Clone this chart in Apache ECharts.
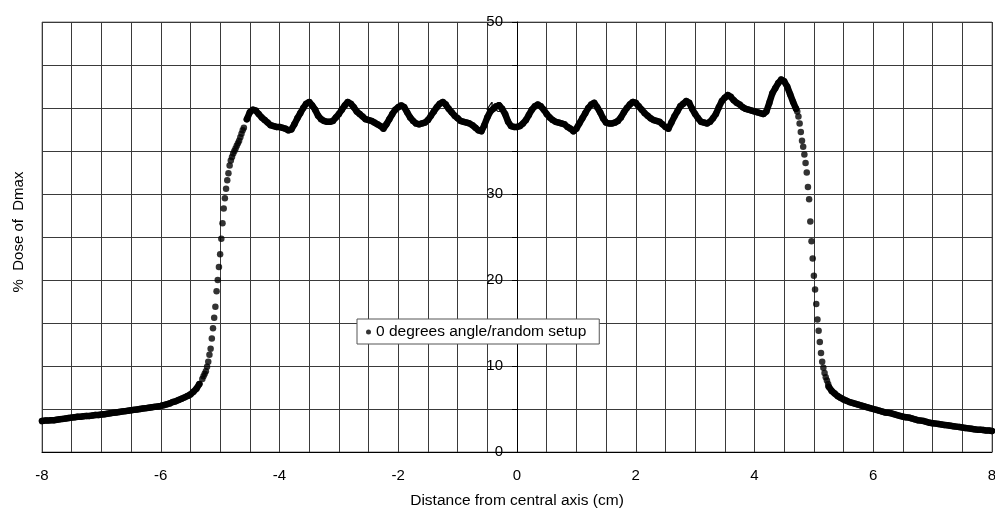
<!DOCTYPE html>
<html>
<head>
<meta charset="utf-8">
<script src="https://cdn.jsdelivr.net/npm/echarts@6/dist/echarts.min.js"></script>
<style>
html, body { margin: 0; padding: 0; background: #fff; }
#ech { width: 995px; height: 509px; }
</style>
</head>
<body>
<div id="ech"></div>
<script>
// values, [distance cm, % dose]
var leftTail = [
	[-8.00,3.6],[-7.95,3.65],[-7.90,3.65],[-7.85,3.7],[-7.80,3.7],[-7.75,3.75],[-7.70,3.8],[-7.65,3.85],
	[-7.60,3.9],[-7.55,3.95],[-7.50,4.0],[-7.45,4.05],[-7.40,4.1],[-7.35,4.1],[-7.30,4.15],[-7.25,4.2],
	[-7.20,4.2],[-7.15,4.25],[-7.10,4.3],[-7.05,4.3],[-7.00,4.35],[-6.95,4.4],[-6.90,4.45],[-6.85,4.5],
	[-6.80,4.55],[-6.75,4.6],[-6.70,4.65],[-6.65,4.7],[-6.60,4.75],[-6.55,4.8],[-6.50,4.85],[-6.45,4.9],
	[-6.40,4.95],[-6.35,5.0],[-6.30,5.05],[-6.25,5.1],[-6.20,5.15],[-6.15,5.2],[-6.10,5.25],[-6.05,5.3],
	[-6.00,5.35],[-5.95,5.45],[-5.90,5.55],[-5.85,5.65],[-5.80,5.8],[-5.75,5.9],[-5.70,6.05],[-5.65,6.2],
	[-5.60,6.35],[-5.55,6.5],[-5.50,6.7],[-5.45,7.0],[-5.40,7.35],[-5.35,7.9]
];
var leftEdge = [
	[-5.30,8.5],[-5.28,8.8],[-5.26,9.1],[-5.24,9.4],[-5.22,9.9],[-5.20,10.5],[-5.18,11.3],[-5.16,12.0],
	[-5.14,13.2],[-5.12,14.4],[-5.10,15.6],[-5.08,16.9],[-5.06,18.7],[-5.04,20.0],[-5.02,21.5],[-5.00,23.0],
	[-4.98,24.8],[-4.96,26.6],[-4.94,28.3],[-4.92,29.5],[-4.90,30.6],[-4.88,31.6],[-4.86,32.4],[-4.84,33.3],
	[-4.82,33.9],[-4.80,34.3],[-4.78,34.7],[-4.76,35.0],[-4.74,35.3],[-4.72,35.6],[-4.70,35.9],[-4.68,36.2],
	[-4.66,36.6],[-4.64,37.0],[-4.62,37.4],[-4.60,37.7]
];
var plateau = [
	[-4.55,38.7],[-4.50,39.5],[-4.45,39.8],[-4.40,39.7],[-4.35,39.3],[-4.30,38.9],[-4.25,38.6],[-4.20,38.3],
	[-4.15,38.0],[-4.10,37.9],[-4.05,37.8],[-4.00,37.8],[-3.95,37.7],[-3.90,37.6],[-3.85,37.4],[-3.80,37.5],
	[-3.75,38.1],[-3.70,38.8],[-3.65,39.4],[-3.60,40.0],[-3.55,40.5],[-3.50,40.7],[-3.45,40.3],[-3.40,39.8],
	[-3.35,39.1],[-3.30,38.7],[-3.25,38.5],[-3.20,38.4],[-3.15,38.4],[-3.10,38.5],[-3.05,38.9],[-3.00,39.3],
	[-2.95,39.8],[-2.90,40.3],[-2.85,40.7],[-2.80,40.5],[-2.75,40.1],[-2.70,39.6],[-2.65,39.3],[-2.60,39.0],
	[-2.55,38.7],[-2.50,38.6],[-2.45,38.5],[-2.40,38.3],[-2.35,38.1],[-2.30,37.9],[-2.25,37.6],[-2.20,38.1],
	[-2.15,38.7],[-2.10,39.3],[-2.05,39.8],[-2.00,40.1],[-1.95,40.3],[-1.90,40.1],[-1.85,39.5],[-1.80,38.9],
	[-1.75,38.5],[-1.70,38.2],[-1.65,38.1],[-1.60,38.2],[-1.55,38.3],[-1.50,38.6],[-1.45,39.1],[-1.40,39.6],
	[-1.35,40.1],[-1.30,40.5],[-1.25,40.7],[-1.20,40.4],[-1.15,39.9],[-1.10,39.5],[-1.05,39.1],[-1.00,38.8],
	[-0.95,38.5],[-0.90,38.4],[-0.85,38.3],[-0.80,38.2],[-0.75,38.0],[-0.70,37.7],[-0.65,37.4],[-0.60,37.3],
	[-0.55,38.0],[-0.50,38.9],[-0.45,39.6],[-0.40,39.9],[-0.35,40.2],[-0.30,40.3],[-0.25,39.9],[-0.20,39.3],
	[-0.15,38.4],[-0.10,37.9],[-0.05,37.8],[0.00,37.8],[0.05,37.9],[0.10,38.2],[0.15,38.6],[0.20,39.2],
	[0.25,39.8],[0.30,40.2],[0.35,40.4],[0.40,40.2],[0.45,39.8],[0.50,39.3],[0.55,38.9],[0.60,38.6],
	[0.65,38.4],[0.70,38.3],[0.75,38.2],[0.80,38.1],[0.85,37.8],[0.90,37.6],[0.95,37.3],[1.00,37.6],
	[1.05,38.2],[1.10,38.8],[1.15,39.4],[1.20,40.0],[1.25,40.4],[1.30,40.6],[1.35,40.1],[1.40,39.5],
	[1.45,38.8],[1.50,38.3],[1.55,38.2],[1.60,38.2],[1.65,38.3],[1.70,38.5],[1.75,38.9],[1.80,39.5],
	[1.85,40.0],[1.90,40.4],[1.95,40.7],[2.00,40.6],[2.05,40.2],[2.10,39.8],[2.15,39.4],[2.20,39.1],
	[2.25,38.8],[2.30,38.6],[2.35,38.5],[2.40,38.4],[2.45,38.1],[2.50,37.8],[2.55,37.6],[2.60,38.3],
	[2.65,39.0],[2.70,39.6],[2.75,40.2],[2.80,40.5],[2.85,40.8],[2.90,40.6],[2.95,39.9],[3.00,39.3],
	[3.05,38.8],[3.10,38.4],[3.15,38.3],[3.20,38.2],[3.25,38.4],[3.30,38.8],[3.35,39.3],[3.40,40.1],
	[3.45,40.8],[3.50,41.2],[3.55,41.5],[3.60,41.3],[3.65,40.9],[3.70,40.6],[3.75,40.4],[3.80,40.1],
	[3.85,39.9],[3.90,39.8],[3.95,39.7],[4.00,39.6],[4.05,39.5],[4.10,39.4],[4.15,39.3],[4.20,39.6],
	[4.25,40.6],[4.30,41.7],[4.35,42.3],[4.40,42.9],[4.45,43.3],[4.50,43.1],[4.55,42.5],[4.60,41.6],
	[4.65,40.7],[4.70,39.9]
];
var rightEdge = [
	[4.72,39.6],[4.74,39.0],[4.76,38.2],[4.78,37.2],[4.80,36.2],[4.82,35.5],[4.84,34.6],[4.86,33.6],
	[4.88,32.5],[4.90,30.8],[4.92,29.4],[4.94,26.8],[4.96,24.5],[4.98,22.5],[5.00,20.5],[5.02,18.9],
	[5.04,17.2],[5.06,15.4],[5.08,14.1],[5.10,12.8],[5.12,11.5],[5.14,10.5],[5.16,9.8],[5.18,9.2],
	[5.20,8.7],[5.22,8.3],[5.24,7.9]
];
var rightTail = [
	[5.25,7.6],[5.30,7.1],[5.35,6.8],[5.40,6.5],[5.45,6.3],[5.50,6.1],[5.55,5.95],[5.60,5.8],
	[5.65,5.7],[5.70,5.6],[5.75,5.5],[5.80,5.4],[5.85,5.3],[5.90,5.2],[5.95,5.1],[6.00,5.0],
	[6.05,4.9],[6.10,4.8],[6.15,4.7],[6.20,4.6],[6.25,4.55],[6.30,4.5],[6.35,4.4],[6.40,4.3],
	[6.45,4.2],[6.50,4.1],[6.55,4.05],[6.60,4.0],[6.65,3.9],[6.70,3.8],[6.75,3.7],[6.80,3.65],
	[6.85,3.6],[6.90,3.5],[6.95,3.4],[7.00,3.35],[7.05,3.3],[7.10,3.25],[7.15,3.2],[7.20,3.15],
	[7.25,3.1],[7.30,3.05],[7.35,3.0],[7.40,2.95],[7.45,2.9],[7.50,2.85],[7.55,2.8],[7.60,2.75],
	[7.65,2.7],[7.70,2.65],[7.75,2.6],[7.80,2.6],[7.85,2.55],[7.90,2.5],[7.95,2.5],[8.00,2.45]
];
var xTickLabels = [-8, -6, -4, -2, 0, 2, 4, 6, 8];
var yTickLabels = [0, 10, 20, 30, 40, 50];
var seriesName = '0 degrees angle/random setup';

var font = 'Liberation Sans, Arial, sans-serif';
var gridColor = '#3a3a3a';

// thick band under the dense parts of the profile
function band(data) {
	return {
		type: 'line',
		data: data,
		showSymbol: false,
		silent: true,
		z: 1,
		lineStyle: { color: '#000', width: 6.5, join: 'round', cap: 'round' }
	};
}

var myChart = echarts.init(document.getElementById('ech'));
var option = {
	animation: false,
	backgroundColor: '#fff',
	textStyle: { fontFamily: font },
	grid: {
		left: 42, right: 3, top: 22, bottom: 57,
		containLabel: false,
		outerBoundsMode: 'none',
		show: true, borderColor: '#808080', borderWidth: 1
	},
	legend: {
		data: [seriesName],
		left: 357, top: 319,
		padding: [5, 13, 4, 9],
		backgroundColor: '#fff',
		borderColor: '#555',
		borderWidth: 1,
		borderRadius: 0,
		icon: 'circle',
		itemWidth: 5, itemHeight: 5,
		textStyle: { fontSize: 15.5, color: '#000', fontFamily: font }
	},
	graphic: [{
		type: 'text',
		x: 19, y: 232,
		rotation: Math.PI / 2,
		style: {
			text: '%  Dose of  Dmax',
			font: '15px ' + font,
			fill: '#000',
			align: 'center',
			verticalAlign: 'middle'
		}
	}],
	xAxis: {
		type: 'value',
		min: -8, max: 8, interval: 0.5,
		name: 'Distance from central axis (cm)',
		nameLocation: 'middle',
		nameGap: 41,
		nameTextStyle: { fontSize: 15.5, color: '#000' },
		axisLine: { show: true, onZero: false, lineStyle: { color: '#000', width: 1 } },
		axisTick: { show: false },
		axisLabel: {
			fontSize: 15, color: '#000', margin: 16,
			formatter: function (v) {
				return xTickLabels.indexOf(v) >= 0 ? String(v) : '';
			}
		},
		splitLine: { show: true, lineStyle: { color: gridColor, width: 1 } }
	},
	yAxis: {
		type: 'value',
		min: 0, max: 50, interval: 5,
		offset: -475,
		axisLine: { show: true, onZero: false, lineStyle: { color: '#000', width: 1 } },
		axisTick: { show: true, length: 5, lineStyle: { color: '#000' } },
		axisLabel: {
			fontSize: 15, color: '#000', margin: 14,
			formatter: function (v) {
				return yTickLabels.indexOf(v) >= 0 ? String(v) : '';
			}
		},
		splitLine: { show: true, lineStyle: { color: gridColor, width: 1 } }
	},
	series: [
		band(leftTail),
		band(plateau),
		band(rightTail),
		{
			name: seriesName,
			type: 'scatter',
			symbol: 'circle',
			symbolSize: 6.5,
			itemStyle: { color: '#000' },
			data: leftTail.concat(leftEdge, plateau, rightEdge, rightTail)
		}
	]
};
myChart.setOption(option);
</script>
</body>
</html>
